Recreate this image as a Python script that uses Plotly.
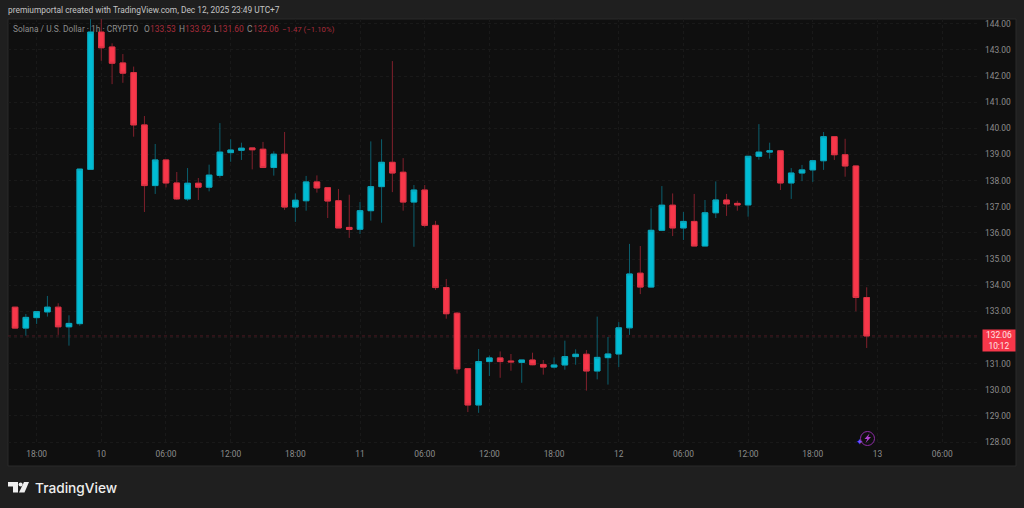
import pandas as pd
import plotly.graph_objects as go

# Hourly SOL/USD, UTC+7
TIMES = pd.date_range('2025-12-09 15:00', '2025-12-12 23:00', freq='h')

OPEN = [
    133.21, 133.16, 132.36, 132.76, 132.98, 133.16, 132.41, 132.53, 138.43,
    143.68, 143.11, 142.50, 142.13, 140.13, 137.81, 138.79, 137.91, 137.30, 137.90, 137.75, 138.20, 139.07, 139.16,
    139.25, 139.20, 138.50, 139.01, 136.99, 137.23, 137.95, 137.73, 137.23, 136.21,
    136.14, 136.85, 137.77, 138.70, 138.32, 137.18, 137.64, 136.29, 133.91, 132.93, 130.81, 129.42, 131.08,
    131.22, 131.10, 131.05, 131.14, 130.97, 130.87, 130.95, 131.27, 131.36, 130.72, 131.23,
    131.37, 132.37, 134.46, 133.93, 136.10, 137.06, 136.19, 136.44, 135.50, 136.77, 137.26, 137.13,
    137.07, 138.93, 139.09, 139.14, 137.91, 138.29, 138.41, 138.76, 139.68, 138.99, 138.56, 133.53,
]
HIGH = [
    133.21, 133.16, 132.90, 132.99, 133.59, 133.31, 132.85, 138.44, 144.30,
    144.30, 143.25, 142.84, 142.36, 140.47, 139.40, 138.79, 138.33, 138.48, 138.10, 138.61, 140.20, 139.58, 139.45,
    139.25, 139.48, 139.12, 139.86, 137.51, 138.18, 138.20, 137.73, 137.68, 137.46,
    137.18, 139.50, 139.58, 142.57, 138.86, 137.83, 137.83, 136.46, 134.24, 132.98, 130.81, 131.56, 131.31,
    131.47, 131.37, 131.14, 131.42, 131.14, 131.24, 131.88, 131.55, 131.52, 132.80, 132.02,
    132.59, 135.58, 135.50, 136.94, 137.79, 137.51, 136.80, 137.49, 137.26, 137.97, 137.49, 137.23,
    138.93, 140.16, 139.45, 139.14, 138.48, 138.60, 138.79, 139.86, 139.68, 139.60, 138.56, 133.92,
]
LOW = [
    133.13, 132.36, 132.07, 132.52, 132.80, 132.10, 131.69, 132.45, 138.43,
    142.58, 141.69, 141.74, 139.68, 136.80, 137.49, 137.74, 137.26, 137.23, 137.26, 137.59, 138.11, 138.72, 138.79,
    138.43, 138.48, 138.19, 136.88, 136.42, 136.85, 137.54, 136.57, 136.19, 135.81,
    135.96, 136.47, 136.39, 137.56, 136.85, 135.47, 136.21, 133.82, 132.72, 130.62, 129.15, 129.12, 130.53,
    130.46, 130.73, 130.27, 130.94, 130.58, 130.82, 130.77, 130.96, 129.97, 130.40, 130.20,
    130.87, 132.10, 133.66, 133.91, 136.07, 135.88, 135.73, 135.50, 135.50, 136.57, 136.65, 136.85,
    136.62, 138.80, 138.84, 137.64, 137.30, 137.98, 137.95, 138.41, 138.79, 138.15, 133.00, 131.60,
]
CLOSE = [
    133.13, 132.36, 132.77, 132.99, 133.16, 132.41, 132.54, 138.44, 143.68,
    143.08, 142.49, 142.11, 140.13, 137.81, 138.79, 137.91, 137.30, 137.90, 137.75, 138.21, 139.09, 139.17, 139.24,
    139.18, 138.50, 139.01, 136.99, 137.25, 137.95, 137.72, 137.22, 136.19, 136.13,
    136.85, 137.77, 138.70, 138.29, 137.18, 137.64, 136.29, 133.91, 132.91, 130.80, 129.42, 131.08, 131.22,
    131.08, 131.07, 131.14, 130.96, 130.87, 130.95, 131.27, 131.36, 130.72, 131.24, 131.37,
    132.37, 134.43, 133.93, 136.10, 137.06, 136.19, 136.44, 135.50, 136.77, 137.26, 137.11, 137.07,
    138.93, 139.09, 139.14, 137.91, 138.29, 138.41, 138.76, 139.68, 138.99, 138.56, 133.53, 132.06,
]

X_TICKS = ['2025-12-09 18:00', '2025-12-10 00:00', '2025-12-10 06:00', '2025-12-10 12:00', '2025-12-10 18:00',
           '2025-12-11 00:00', '2025-12-11 06:00', '2025-12-11 12:00', '2025-12-11 18:00',
           '2025-12-12 00:00', '2025-12-12 06:00', '2025-12-12 12:00', '2025-12-12 18:00',
           '2025-12-13 00:00', '2025-12-13 06:00']
X_LABELS = ['18:00', '10', '06:00', '12:00', '18:00', '11', '06:00', '12:00', '18:00',
            '12', '06:00', '12:00', '18:00', '13', '06:00']
Y_TICKS = list(range(128, 145))

UP = '#00BCD4'
DOWN = '#F7374A'
UP_WICK = '#0B5F6E'
DOWN_WICK = '#80202C'
FONT = 'Roboto'
TEXT_SIZE = 8.4

WIDTH, HEIGHT = 1024, 508
LEFT, RIGHT, TOP, BOTTOM = 8, 980, 19, 445


def px_x(x):
    return (x - LEFT) / (RIGHT - LEFT)


def px_y(y):
    return (BOTTOM - y) / (BOTTOM - TOP)


def path(points):
    return 'M ' + ' L '.join(f'{px_x(x)} {px_y(y)}' for x, y in points) + ' Z'


def page_text(x, y, text, color, size=TEXT_SIZE, family=FONT, xanchor='left', weight=None):
    fig.add_annotation(xref='paper', yref='paper', x=px_x(x), y=px_y(y), xanchor=xanchor, yanchor='middle',
                       text=text, showarrow=False, font=dict(family=family, size=size, color=color, weight=weight))


fig = go.Figure()

# wicks are dimmer than the bodies, so they get their own trace underneath
fig.add_trace(go.Candlestick(
    x=TIMES, open=OPEN, high=HIGH, low=LOW, close=CLOSE, whiskerwidth=0,
    increasing=dict(line=dict(color=UP_WICK, width=1), fillcolor=UP_WICK),
    decreasing=dict(line=dict(color=DOWN_WICK, width=1), fillcolor=DOWN_WICK),
    hoverinfo='skip', showlegend=False,
))
fig.add_trace(go.Candlestick(
    x=TIMES, open=OPEN, close=CLOSE,
    high=[max(o, c) for o, c in zip(OPEN, CLOSE)],
    low=[min(o, c) for o, c in zip(OPEN, CLOSE)],
    whiskerwidth=0,
    increasing=dict(line=dict(color='#0AA5BA', width=1), fillcolor=UP),
    decreasing=dict(line=dict(color='#DB3344', width=1), fillcolor=DOWN),
    hoverinfo='skip', showlegend=False,
))

# dark chart panel on the grey page
fig.add_shape(type='rect', xref='paper', yref='paper', layer='below',
              x0=px_x(8), x1=px_x(1016), y0=px_y(466), y1=px_y(19),
              fillcolor='#0F0F0F', line=dict(color='#2A2A2A', width=1))
# last price line
fig.add_shape(type='line', xref='paper', yref='y', layer='below', x0=0, x1=1, y0=CLOSE[-1], y1=CLOSE[-1],
              line=dict(color='#4E1A23', width=1, dash='dot'))

# TradingView logo
fig.add_shape(type='path', xref='paper', yref='paper', fillcolor='#EEEEEE', line_width=0,
              path=path([(8, 482), (18, 482), (18, 492.5), (13, 492.5), (13, 486.5), (8, 486.5)]))
fig.add_shape(type='circle', xref='paper', yref='paper', fillcolor='#EEEEEE', line_width=0,
              x0=px_x(18.6), x1=px_x(22.6), y0=px_y(486.4), y1=px_y(482.4))
fig.add_shape(type='path', xref='paper', yref='paper', fillcolor='#EEEEEE', line_width=0,
              path=path([(24, 482), (29, 482), (24.5, 492.5), (19, 492.5)]))

# replay marker near the time scale
fig.add_shape(type='circle', xref='paper', yref='paper', line=dict(color='#8E2BA8', width=1),
              x0=px_x(860.5), x1=px_x(874.5), y0=px_y(445.5), y1=px_y(431.5))
fig.add_shape(type='path', xref='paper', yref='paper', fillcolor='#B040D0', line_width=0,
              path=path([(869.5, 433.5), (864.5, 439), (867.3, 439), (865.5, 443), (871, 437), (868.2, 437)]))
page_text(860, 441.5, '✦', '#7C4DFF', size=9, family='DejaVu Sans', xanchor='center')

# page texts
page_text(6, 10.5, 'premiumportal created with TradingView.com, Dec 12, 2025 23:49 UTC+7', '#C4C4C4')
page_text(11, 29.5, 'Solana / U.S. Dollar · 1h · CRYPTO', '#8C8C8C')
legend_parts = [(142, 'O', '#8C8C8C'), (148, '133.53', '#A82C3B'), (177, 'H', '#8C8C8C'), (183, '133.92', '#A82C3B'),
                (212, 'L', '#8C8C8C'), (216, '131.60', '#A82C3B'), (245, 'C', '#8C8C8C'), (251, '132.06', '#A82C3B')]
for x, text, color in legend_parts:
    page_text(x, 29.5, text, color)
page_text(280, 29.5, '−1.47 (−1.10%)', '#A82C3B', size=7.8)
page_text(33, 487.5, 'TradingView', '#EEEEEE', size=13.7, family='Inter', weight=500)

fig.add_annotation(xref='paper', yref='y', x=px_x(982), y=CLOSE[-1], yshift=-5, xanchor='left', yanchor='middle',
                   text='132.06<br>10:12', showarrow=False, width=32, height=21, bgcolor=DOWN, borderpad=0,
                   align='center', font=dict(family=FONT, size=TEXT_SIZE, color='#FFE3E6'))

fig.update_layout(
    width=WIDTH, height=HEIGHT, autosize=False,
    margin=dict(l=LEFT, r=WIDTH - RIGHT, t=TOP, b=HEIGHT - BOTTOM),
    paper_bgcolor='#1F1F1F', plot_bgcolor='#0F0F0F',
    font=dict(family=FONT, size=TEXT_SIZE, color='#8C8C8C'),
    boxgap=0.26,
    xaxis=dict(
        type='date', range=['2025-12-09 15:20:40', '2025-12-13 09:30:40'], rangeslider=dict(visible=False),
        tickmode='array', tickvals=X_TICKS, ticktext=X_LABELS, tickangle=0, ticks='', showline=False, zeroline=False,
        showgrid=True, gridcolor='#191919', griddash='dot', gridwidth=1, ticklabelstandoff=3,
    ),
    yaxis=dict(
        side='right', range=[127.89, 144.18], tickmode='array', tickvals=Y_TICKS,
        # 132.00 sits under the last price tag, the reference does not show it
        ticktext=['' if v == 132 else f'{v:.2f}' for v in Y_TICKS], ticks='', showline=False, zeroline=False,
        showgrid=True, gridcolor='#191919', griddash='dot', gridwidth=1, ticklabelstandoff=4,
    ),
)

# the page's default 8px body margin would push the whole figure off
fig.write_html('out.html', config={'displayModeBar': False},
               post_script="document.body.style.margin = '0'; document.body.style.background = '#1F1F1F';")
